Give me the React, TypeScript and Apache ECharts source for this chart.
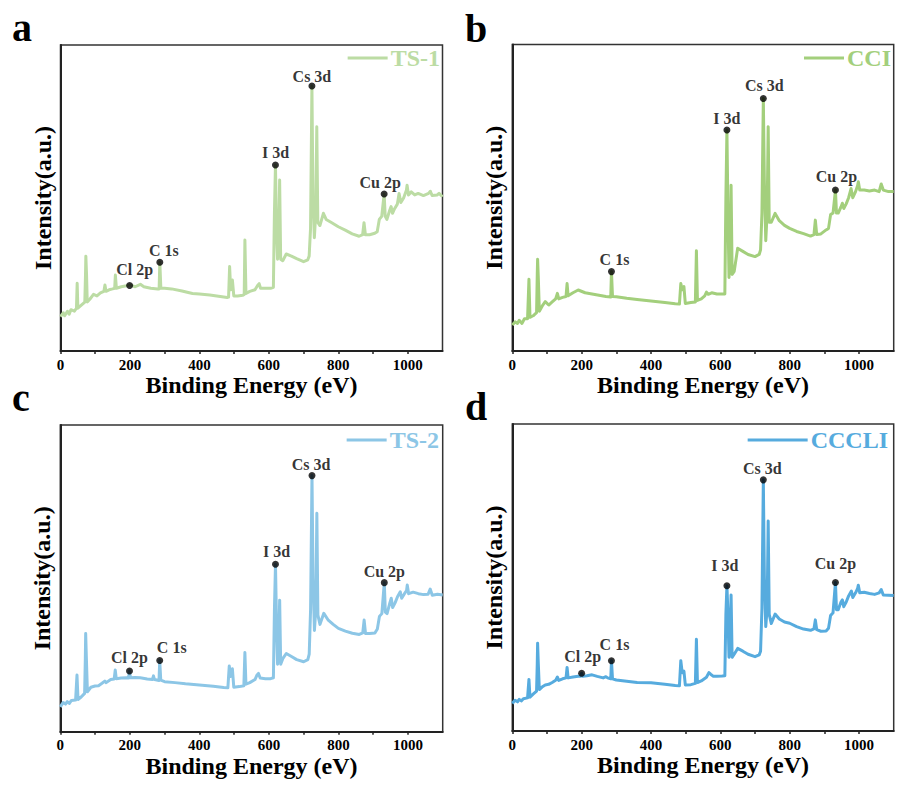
import React, { useEffect, useRef } from 'react';
import * as echarts from 'echarts';

// ---------- data ----------
const X_TICK_LABELS = [0, 200, 400, 600, 800, 1000];
const X_MIN = 0;
const X_MAX = 1100;
const Y_MIN = 0;
const Y_MAX = 100;

const SERIES_NAMES = ['TS-1', 'CCI', 'TS-2', 'CCCLI'];
const PANEL_LETTERS = ['a', 'b', 'c', 'd'];
const X_TITLE = 'Binding Energy (eV)';
const Y_TITLE = 'Intensity(a.u.)';

const TS1: [number, number][] = [
  [0, 11.2], [8, 12.5], [12, 11.5], [20, 13], [25, 12], [30, 13.5], [40, 13], [46, 14], [48, 22.1], [50, 14],
  [60, 15], [70, 16], [72, 25], [73, 31], [75, 25], [77, 16], [85, 17], [95, 18.5], [105, 18], [115, 19],
  [125, 19.5], [128, 21.6], [131, 19.5], [140, 20], [150, 20.3], [156, 20.5], [158, 24.8], [161, 20.5], [175, 21], [190, 21.3],
  [200, 21.6], [215, 21], [230, 21.8], [240, 21], [260, 20.5], [280, 20.3], [284, 20.3], [286, 29], [289, 20.5], [300, 20.5],
  [320, 20.3], [350, 19.6], [380, 18.8], [400, 18.6], [430, 18.3], [460, 17.8], [480, 17.5], [484, 17.6], [487, 27.6], [490, 20],
  [495, 23.2], [499, 18], [510, 18], [525, 18.2], [529, 18.5], [531, 36.3], [534, 18.8], [545, 19.5], [560, 20], [568, 21.5],
  [572, 22], [576, 20.5], [590, 20.5], [605, 20.5], [613, 20.8], [616, 45], [619, 60.8], [622, 40], [625, 30], [629, 40],
  [631, 55.9], [634, 30], [640, 29.5], [650, 31.7], [665, 31], [680, 30.2], [700, 29.2], [712, 29.8], [716, 31], [720, 40],
  [724, 86.6], [727, 50], [731, 37], [735, 45], [738, 73.3], [741, 42], [747, 41], [757, 45], [765, 43], [780, 42],
  [800, 40.6], [820, 39.5], [840, 38.3], [860, 37.5], [870, 38], [874, 41.9], [878, 38], [890, 38], [905, 38.5], [912, 39],
  [918, 43], [925, 44], [932, 51.3], [935, 44], [940, 43], [948, 46], [952, 47.2], [956, 45], [962, 46.5], [970, 48],
  [975, 51.5], [980, 48.5], [988, 50], [996, 52.5], [998, 54.2], [1002, 51], [1010, 52], [1020, 51], [1030, 51.5], [1045, 50.8],
  [1060, 51.5], [1065, 52.2], [1070, 50.8], [1085, 51], [1090, 51.5], [1100, 50.4],
];

const CCI: [number, number][] = [
  [0, 8.5], [8, 9.5], [15, 9], [20, 10], [28, 9], [35, 10.5], [44, 10.5], [48, 23.4], [51, 11], [60, 11.5],
  [70, 12.5], [72, 25], [73, 29.9], [75, 24], [78, 13], [88, 15], [95, 16.1], [105, 15], [115, 16], [125, 17],
  [130, 18.8], [134, 17], [145, 17.5], [155, 17.8], [158, 22], [161, 18], [175, 19], [190, 19.9], [210, 19], [230, 18.6],
  [250, 18.2], [270, 17.8], [284, 17.6], [286, 25.9], [289, 17.8], [300, 17.7], [330, 17.2], [360, 16.8], [400, 16.3], [440, 15.8],
  [470, 15.4], [482, 15.3], [486, 22], [490, 20], [495, 21], [499, 15.5], [515, 15.8], [528, 16], [531, 32.7], [534, 16.5],
  [545, 17], [555, 18], [560, 19.2], [565, 18.5], [575, 19], [590, 18.6], [605, 18.6], [613, 18.6], [616, 50], [619, 72.1],
  [622, 45], [625, 24], [629, 35], [631, 54.1], [634, 25], [640, 26], [650, 33.5], [665, 32.5], [680, 31.5], [700, 30.8],
  [712, 31.5], [716, 33], [720, 45], [724, 82.4], [727, 55], [731, 36], [735, 45], [738, 73.2], [741, 42], [747, 42],
  [758, 44.9], [770, 42.5], [785, 41], [800, 40], [820, 39], [840, 38.3], [860, 37.5], [870, 38], [874, 42.7], [878, 38],
  [890, 38.2], [905, 39.5], [912, 40], [918, 44.5], [925, 45], [932, 52.5], [935, 45], [940, 45], [948, 47], [952, 48.2],
  [956, 46.5], [963, 48], [970, 50], [977, 53], [982, 50], [990, 52], [996, 54], [998, 55.2], [1002, 52.5], [1015, 52.5],
  [1030, 52.2], [1045, 52.5], [1058, 52], [1064, 54.5], [1070, 52.5], [1085, 52], [1100, 52],
];

const TS2: [number, number][] = [
  [0, 8.1], [8, 9.5], [15, 9], [20, 9.8], [26, 9.2], [32, 10.2], [44, 10.3], [48, 18.5], [51, 10.5], [60, 11.3],
  [70, 12.5], [72, 24], [73, 32], [75, 24], [78, 13], [88, 14.5], [100, 14.9], [110, 15], [120, 15.8], [128, 16.5],
  [132, 16], [145, 17], [155, 17.2], [158, 20.1], [161, 17.3], [175, 17.5], [190, 17.6], [196, 17.5], [199, 19.8], [202, 17.6],
  [215, 17.7], [230, 17.6], [250, 17.2], [265, 17], [268, 18.2], [271, 17], [284, 16.7], [286, 23.2], [289, 16.8], [300, 16.3],
  [330, 16], [360, 15.6], [400, 15.2], [440, 14.8], [470, 14.4], [482, 14.3], [486, 21.4], [490, 18], [495, 20.5], [499, 14.5],
  [515, 14.7], [528, 15], [531, 25.8], [534, 15.5], [545, 16], [560, 17], [566, 18.5], [570, 19], [575, 17.5], [590, 17.3],
  [605, 17.3], [613, 17.6], [616, 40], [619, 54.6], [622, 35], [625, 22], [629, 32], [631, 42.9], [634, 22], [640, 23.8],
  [650, 25.5], [665, 24.5], [680, 23.5], [700, 22.8], [712, 23.5], [716, 25.3], [720, 40], [724, 83.5], [727, 50], [731, 33],
  [735, 40], [738, 71.2], [741, 38], [747, 35], [758, 38.6], [770, 36.5], [785, 35], [800, 33.7], [820, 32.8], [840, 32.1],
  [860, 31.7], [870, 32.2], [874, 36.4], [878, 32], [890, 32], [905, 32.2], [912, 33.5], [918, 37.6], [925, 38.5], [932, 48.6],
  [935, 39], [940, 38.5], [948, 42], [952, 43.5], [956, 40.5], [963, 42], [970, 44], [978, 45.6], [982, 43.5], [990, 45],
  [996, 46], [998, 47.8], [1002, 45], [1015, 45.5], [1030, 45], [1045, 44.7], [1058, 44.8], [1064, 46.5], [1070, 44.5], [1085, 44.8],
  [1100, 44.6],
];

const CCCLI: [number, number][] = [
  [0, 9], [8, 10], [15, 9.5], [20, 10.3], [26, 9.8], [32, 10.5], [44, 10.8], [48, 16.8], [51, 11], [60, 12],
  [70, 13], [72, 22], [73, 28.6], [75, 22], [78, 13.5], [88, 14.5], [95, 15], [105, 15.2], [115, 15.8], [125, 16.5],
  [130, 17.6], [134, 16.5], [145, 17], [155, 17.3], [158, 20.7], [161, 17.3], [175, 17.6], [190, 17.8], [197, 17.8], [200, 18.8],
  [203, 17.8], [215, 18], [230, 18.3], [245, 17.8], [262, 17.3], [270, 17.7], [275, 17.3], [284, 17], [286, 22.9], [289, 17],
  [300, 16.6], [330, 16.2], [360, 15.8], [400, 15.7], [440, 15.2], [470, 14.8], [482, 14.7], [486, 22.9], [490, 19], [495, 19.5],
  [499, 15], [515, 15.1], [528, 15.5], [531, 29.9], [534, 15.8], [545, 16.3], [560, 17.5], [567, 19], [572, 18.5], [580, 17.8],
  [590, 17.8], [605, 17.9], [613, 18], [616, 38], [619, 47.3], [622, 38], [625, 24], [629, 35], [631, 44.3], [634, 24],
  [640, 25], [650, 26.9], [665, 26], [680, 25], [700, 24.2], [712, 24.8], [716, 26], [720, 40], [724, 81.8], [727, 50],
  [731, 34], [735, 40], [738, 68.4], [741, 38], [747, 35], [758, 38.1], [770, 36.5], [785, 35.5], [800, 35.1], [820, 34],
  [840, 33.2], [860, 32.8], [870, 33.3], [874, 36.2], [878, 33], [890, 32.5], [905, 32.6], [912, 33.5], [918, 37.6], [925, 38.5],
  [932, 48.4], [935, 39.5], [940, 39.5], [948, 42], [952, 42.7], [956, 40.5], [963, 42], [970, 44], [978, 45.6], [982, 43.5],
  [990, 45], [996, 46.5], [998, 47.5], [1002, 45], [1015, 45.2], [1030, 44.8], [1045, 44.5], [1058, 45], [1064, 46.1], [1070, 44.3],
  [1085, 44.2], [1100, 44.1],
];

// peak annotations: [label, binding energy, intensity]
const PEAKS_TS1: [string, number, number][] = [
  ['Cl 2p', 199, 21.4], ['C 1s', 286, 29], ['I 3d', 619, 60.8], ['Cs 3d', 724, 86.6], ['Cu 2p', 932, 51.3],
];
const PEAKS_CCI: [string, number, number][] = [
  ['C 1s', 286, 25.9], ['I 3d', 619, 72.1], ['Cs 3d', 724, 82.4], ['Cu 2p', 932, 52.5],
];
const PEAKS_TS2: [string, number, number][] = [
  ['Cl 2p', 199, 19.8], ['C 1s', 286, 23.2], ['I 3d', 619, 54.6], ['Cs 3d', 724, 83.5], ['Cu 2p', 932, 48.6],
];
const PEAKS_CCCLI: [string, number, number][] = [
  ['Cl 2p', 200, 18.8], ['C 1s', 286, 22.9], ['I 3d', 619, 47.3], ['Cs 3d', 724, 81.8], ['Cu 2p', 932, 48.4],
];

// ---------- styles / layout ----------
const FONT = 'Liberation Serif';

const PANEL_STYLE = [
  {
    data: TS1, peaks: PEAKS_TS1, color: '#bcdca4',
    grid: { left: 60.5, top: 45, width: 382, height: 306 },
    legend: { right: 457, top: 46, itemWidth: 40 },
    letter: [12, 27],
    labelOffsets: [[5, -16], [4, -12], [0, -12], [0, -10], [-4, -12]],
  },
  {
    data: CCI, peaks: PEAKS_CCI, color: '#a3cf7c',
    grid: { left: 512.3, top: 44.5, width: 381.4, height: 306.5 },
    legend: { right: 6, top: 46, itemWidth: 40 },
    letter: [465, 28.5],
    labelOffsets: [[3, -12], [0, -12], [1, -13], [1, -14]],
  },
  {
    data: TS2, peaks: PEAKS_TS2, color: '#8cc6e6',
    grid: { left: 60.3, top: 425, width: 382.4, height: 306.7 },
    legend: { right: 458, top: 428, itemWidth: 40 },
    letter: [12, 397],
    labelOffsets: [[0, -13], [12, -13], [1, -13], [-1, -11], [0, -11]],
  },
  {
    data: CCCLI, peaks: PEAKS_CCCLI, color: '#56abde',
    grid: { left: 512.3, top: 424, width: 381.4, height: 307 },
    legend: { right: 9, top: 428, itemWidth: 60 },
    letter: [465, 406.5],
    labelOffsets: [[1, -17], [3, -16], [-2, -20], [-1, -11], [0, -19]],
  },
];

function buildOption() {
  const grid: any[] = [];
  const xAxis: any[] = [];
  const yAxis: any[] = [];
  const series: any[] = [];
  const legend: any[] = [];
  const graphic: any[] = [];

  PANEL_STYLE.forEach((p, i) => {
    grid.push({
      ...p.grid,
      show: true,
      borderColor: '#333',
      borderWidth: 1.5,
      backgroundColor: 'transparent',
      containLabel: false,
    });
    xAxis.push({
      type: 'value',
      gridIndex: i,
      min: X_MIN,
      max: X_MAX,
      interval: 100,
      name: X_TITLE,
      nameLocation: 'middle',
      nameGap: 21,
      nameTextStyle: { fontFamily: FONT, fontWeight: 'bold', fontSize: 24, color: '#000' },
      axisLine: { show: true, onZero: false, lineStyle: { color: '#222', width: 2 } },
      axisTick: { show: true, inside: false, length: 3, lineStyle: { color: '#222', width: 1.5 } },
      axisLabel: {
        show: true,
        margin: 6,
        showMaxLabel: false,
        fontFamily: FONT,
        fontWeight: 'bold',
        fontSize: 15,
        color: '#000',
        formatter: (v: number) => (X_TICK_LABELS.includes(v) ? String(v) : ''),
      },
      splitLine: { show: false },
    });
    yAxis.push({
      type: 'value',
      gridIndex: i,
      min: Y_MIN,
      max: Y_MAX,
      name: Y_TITLE,
      nameLocation: 'middle',
      nameGap: 6,
      nameTextStyle: { fontFamily: FONT, fontWeight: 'bold', fontSize: 24, color: '#000' },
      axisLine: { show: true, onZero: false, lineStyle: { color: '#222', width: 2 } },
      axisTick: { show: false },
      axisLabel: { show: false },
      splitLine: { show: false },
    });
    series.push({
      type: 'line',
      name: SERIES_NAMES[i],
      xAxisIndex: i,
      yAxisIndex: i,
      data: p.data,
      showSymbol: false,
      symbol: 'none',
      lineStyle: { color: p.color, width: 3, join: 'round' },
      itemStyle: { color: p.color },
      z: 2,
    });
    series.push({
      type: 'scatter',
      name: SERIES_NAMES[i] + '-peaks',
      xAxisIndex: i,
      yAxisIndex: i,
      symbolSize: 7,
      itemStyle: { color: '#000' },
      z: 5,
      data: p.peaks.map((pk, k) => ({
        name: pk[0],
        value: [pk[1], pk[2]],
        label: {
          show: true,
          position: 'inside',
          offset: p.labelOffsets[k],
          formatter: '{b}',
          fontFamily: FONT,
          fontWeight: 'bold',
          fontSize: 16,
          color: '#000',
        },
      })),
    });
    legend.push({
      data: [SERIES_NAMES[i]],
      right: p.legend.right,
      top: p.legend.top,
      padding: 0,
      icon: 'rect',
      itemWidth: p.legend.itemWidth,
      itemHeight: 3,
      selectedMode: false,
      textStyle: {
        fontFamily: FONT,
        fontWeight: 'bold',
        fontSize: 24,
        lineHeight: 24,
        color: p.color,
        padding: [0, 0, 0, -2],
      },
    });
    graphic.push({
      type: 'text',
      left: p.letter[0],
      top: p.letter[1] - 20,
      style: {
        text: PANEL_LETTERS[i],
        fontFamily: FONT,
        fontWeight: 'bold',
        fontSize: 40,
        fill: '#000',
      },
    });
  });

  return {
    animation: false,
    backgroundColor: '#fff',
    textStyle: { fontFamily: FONT },
    grid,
    xAxis,
    yAxis,
    series,
    legend,
    graphic,
  };
}

export default function App() {
  const ref = useRef<HTMLDivElement>(null);
  useEffect(() => {
    if (!ref.current) return;
    const chart = echarts.init(ref.current, undefined, { renderer: 'svg' });
    chart.setOption(buildOption() as any);
    return () => chart.dispose();
  }, []);
  return (
    <div
      ref={ref}
      style={{ position: 'absolute', left: 0, top: 0, width: 897, height: 787 }}
    />
  );
}
